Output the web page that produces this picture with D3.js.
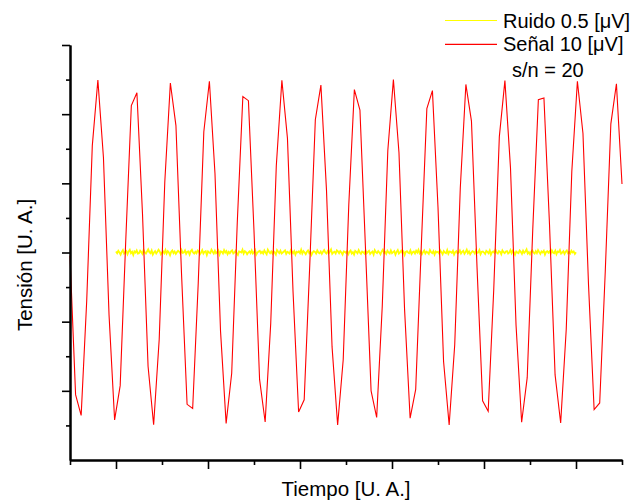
<!DOCTYPE html>
<html><head><meta charset="utf-8">
<script src="https://cdn.jsdelivr.net/npm/d3@7"></script>
<style>
html,body{margin:0;padding:0;background:#fff;}
svg{display:block;font-family:"Liberation Sans",Arial,sans-serif;}
</style></head>
<body><svg id="c" width="630" height="500"></svg>
<script>
// Signal (red) samples, in U.A., evenly spaced from x=0 to x=12
const signal = [5.91,1.89,1.29,4.61,9.09,10.99,8.74,4.20,1.16,2.15,
6.35,10.25,10.62,7.13,2.71,1.02,3.49,8.04,10.90,9.67,
5.39,1.61,1.49,5.12,9.49,10.95,8.29,3.72,1.06,2.51,
6.87,10.51,10.39,6.62,2.33,1.10,3.95,8.51,10.98,9.30,
4.87,1.39,1.74,5.64,9.84,10.84,7.81,3.27,1.01,2.90,
7.38,10.71,10.12,6.10,2.00,1.23,4.44,8.95,11.00,8.89,
4.37,1.21,2.04,6.17,10.16,10.68,7.31,2.85,1.01,3.33,
7.87,10.86,9.80,5.57,1.71,1.41,4.94,9.35,10.97,8.45,
3.89,1.09,2.38,6.69,10.42,10.47,6.80,2.46,1.07,3.78,
8.35,10.95,9.44,5.05,1.46,1.65,5.46,9.72,10.88,7.98];
const signalStart = 0, signalEnd = 12;

// Noise (yellow): level and deviations (hundredths of U.A.), from x=1 to x=11
const noiseLevel = 6;
const noiseStart = 1, noiseEnd = 11;
const noiseDev = [3,-2,5,0,-6,2,7,-3,1,4,-5,3,8,-2,2,-7,3,0,6,-3,
-2,5,1,-4,7,0,-3,3,9,1,-2,6,-6,0,4,-3,2,8,3,-5,
0,3,-2,7,-3,4,0,-8,2,6,-2,3,-4,1,5,2,-3,7,-1,0,
6,-4,2,3,-6,4,8,0,-3,2,-2,6,3,-5,0,7,-3,2,4,-7,
3,0,-2,8,2,-3,5,-2,1,6,-6,3,2,-3,7,0,4,-5,2,-2,
3,6,-3,0,5,-2,-7,3,2,0,8,-3,4,1,-5,0,3,-2,6,-3,
1,7,-6,0,3,5,-2,2,-3,6,0,-5,8,2,-2,3,-3,4,0,-6,
7,2,-2,5,-3,0,3,6,-4,2,0,-3,7,3,-2,4,-6,2,0,3,
-2,8,-3,4,0,-5,2,6,-2,3,-7,0,4,2,-3,6,0,-2,3,-4,
2,7,0,-3,4,-2,3,9,-4,0,2,-3,6,3,-2,4,0,-6,3,2,
-1,4,-5,2,6,-3,1,-6,5,2,-2,7,0,-4,3,1,-3,6,-2,2,
5,-4,0,3,-6,7,1,-2,4,0,-5,3,8,-1,2,-4,5,0,-3,6,
-2,1,4,-6,2,7,-3,0,5,-1,3,-7,2,4,0,-2,6,-4,1,3,
-3,5,0,8,-2,3,-5,1,6,-3,2,0,-4,7,1,-2,4,-6,3,0,
2,-3,6,1,-5,4,0,-2,7,-4,3,2,-1,5,-6,1,4,-2,0,6,
-3,2,5,-4,1,8,-2,3,-5,0,4,2,-3,6,-1,0,7,-5,2,3,
0,-4,5,2,-2,6,-6,1,3,-1,8,0,-3,4,2,-5,6,1,-2,3,
4,-3,0,7,-2,5,1,-6,3,0,-2,6,2,-4,5,-1,3,9,-3,1,
-5,2,6,0,-3,4,-2,7,1,-4,3,0,5,-6,2,4,-1,3,-3,6,
0,-2,5,-5,3,1,7,-3,0,4,-4,2,6,-2,1,-3,5,0,3,-4,1];

const xMajor = [1,3,5,7,9,11];
const xMinor = [0,2,4,6,8,10,12];
const yMajor = [2,4,6,8,10,12];
const yMinor = [1,3,5,7,9,11];

const legendLabels = ["Ruido 0.5 [μV]","Señal 10 [μV]"];
const legendColors = ["#ffff00","#ff0000"];
const snText = "s/n = 20";
const xTitle = "Tiempo [U. A.]";
const yTitle = "Tensión [U. A.]";

const svg = d3.select("#c");
const x = d3.scaleLinear().domain([0,12]).range([70,622]);
const y = d3.scaleLinear().domain([0,12]).range([460,45]);

// data lines
const line = d3.line().x(d=>x(d[0])).y(d=>y(d[1]));
const sigPts = signal.map((v,i)=>[signalStart + i*(signalEnd-signalStart)/(signal.length-1), v]);
const noisePts = noiseDev.map((v,i)=>[noiseStart + i*(noiseEnd-noiseStart)/(noiseDev.length-1), noiseLevel + v/100]);

svg.append("path").datum(noisePts).attr("d",line)
  .attr("fill","none").attr("stroke","#ffff00").attr("stroke-width",1.8);
svg.append("path").datum(sigPts).attr("d",line)
  .attr("fill","none").attr("stroke","#ff0000").attr("stroke-width",1.1);

// axes
function styleAxis(g){
  g.select(".domain").attr("stroke","#000").attr("stroke-width",2);
  g.selectAll(".tick line").attr("stroke","#000").attr("stroke-width",1.6);
}
const gx1 = svg.append("g").attr("transform","translate(0,460)")
  .call(d3.axisBottom(x).tickValues(xMajor).tickSize(9).tickSizeOuter(0).tickFormat(""));
styleAxis(gx1);
const gx2 = svg.append("g").attr("transform","translate(0,460)")
  .call(d3.axisBottom(x).tickValues(xMinor).tickSize(5).tickSizeOuter(0).tickFormat(""));
styleAxis(gx2);
const gy1 = svg.append("g").attr("transform","translate(70,0)")
  .call(d3.axisLeft(y).tickValues(yMajor).tickSize(8).tickSizeOuter(0).tickFormat(""));
styleAxis(gy1);
const gy2 = svg.append("g").attr("transform","translate(70,0)")
  .call(d3.axisLeft(y).tickValues(yMinor).tickSize(4).tickSizeOuter(0).tickFormat(""));
styleAxis(gy2);

// titles
svg.append("text").attr("x",346).attr("y",496).attr("text-anchor","middle")
  .attr("font-size",20.5).attr("fill","#000").text(xTitle);
svg.append("text").attr("transform","translate(32,265) rotate(-90)").attr("text-anchor","middle")
  .attr("font-size",20.5).attr("fill","#000").text(yTitle);

// legend
const leg = svg.append("g");
legendLabels.forEach((lab,i)=>{
  const yy = 20.5 + i*23.8;
  leg.append("line").attr("x1",445).attr("x2",497).attr("y1",yy).attr("y2",yy)
    .attr("stroke",legendColors[i]).attr("stroke-width",1.2);
  leg.append("text").attr("x",503).attr("y",yy+7).attr("font-size",20)
    .attr("fill","#000").text(lab);
});
leg.append("text").attr("x",512).attr("y",76.7).attr("font-size",20).attr("fill","#000").text(snText);
</script></body></html>
